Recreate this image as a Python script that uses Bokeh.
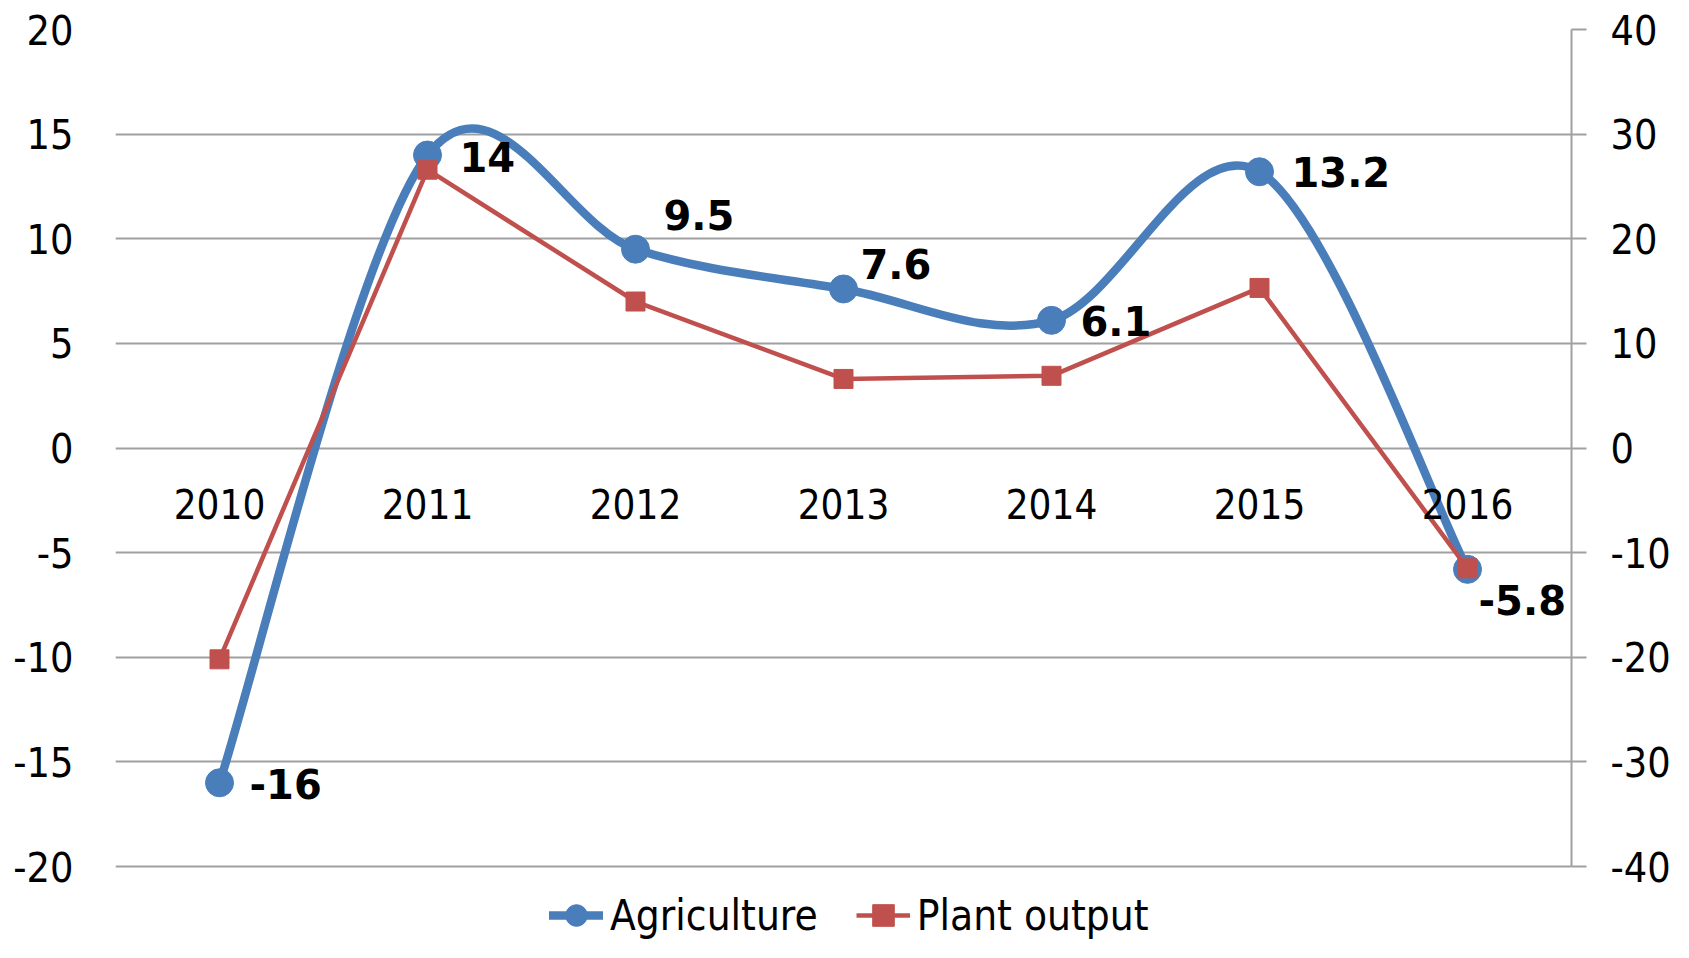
import numpy as np
from bokeh.plotting import figure
from bokeh.models import Range1d, LinearAxis, FixedTicker, Legend, LegendItem, PrintfTickFormatter
from bokeh.core.properties import value
from bokeh.embed import file_html
from bokeh.resources import INLINE

years = ["2010", "2011", "2012", "2013", "2014", "2015", "2016"]
agriculture = [-16, 14, 9.5, 7.6, 6.1, 13.2, -5.8]
plant_output = [-20.2, 26.6, 14.0, 6.6, 6.9, 15.3, -11.5]
left_ticks = [-20, -15, -10, -5, 0, 5, 10, 15, 20]
right_ticks = [-40, -30, -20, -10, 0, 10, 20, 30, 40]

# label offsets (screen px), style only
label_dx = [30, 32, 28, 17, 29, 32, 11]
label_dy = [1, 2, -34, -25, 1, 0, 31]

BLUE = "#4A7EBB"
RED = "#C0504D"
GRID = "#A0A0A0"
REG_FONT = "DejaVu Sans Condensed"
BOLD_FONT = "DejaVu Sans"

# layout (px)
FIG_W, FIG_H = 1673, 942
TOP, GRID_BOTTOM = 29, 866
LEFT_B, RIGHT_B = 115, 101

xs = list(range(len(years)))
n = len(xs)

# extend the frame below the -20 gridline so the legend can sit inside it
lmin, lmax = left_ticks[0], left_ticks[-1]
rmin, rmax = right_ticks[0], right_ticks[-1]
extra_frac = (FIG_H - GRID_BOTTOM) / (GRID_BOTTOM - TOP)
y_range = Range1d(lmin - (lmax - lmin) * extra_frac, lmax)
r_range = Range1d(rmin - (rmax - rmin) * extra_frac, rmax)

p = figure(width=FIG_W, height=FIG_H, output_backend="svg", toolbar_location=None,
           x_range=Range1d(-0.5, n - 0.5), y_range=y_range,
           min_border_left=LEFT_B, min_border_right=RIGHT_B, min_border_top=TOP, min_border_bottom=0)
p.outline_line_color = None
p.background_fill_color = "white"
p.border_fill_color = "white"
p.xaxis.visible = False
p.xgrid.visible = False
p.ygrid.ticker = FixedTicker(ticks=left_ticks)
p.ygrid.grid_line_color = GRID
p.ygrid.grid_line_width = 2

ya = p.yaxis[0]
ya.ticker = FixedTicker(ticks=left_ticks)
ya.formatter = PrintfTickFormatter(format="%d")
ya.axis_line_color = None
ya.major_tick_line_color = None
ya.minor_tick_line_color = None
ya.major_label_standoff = 36
ya.major_label_text_font = REG_FONT
ya.major_label_text_font_size = "41px"
ya.major_label_text_color = "black"

p.extra_y_ranges = {"right": r_range}
ra = LinearAxis(y_range_name="right", ticker=FixedTicker(ticks=right_ticks),
                formatter=PrintfTickFormatter(format="%d"), bounds=(rmin, rmax))
ra.axis_line_color = GRID
ra.axis_line_width = 2
ra.major_tick_line_color = GRID
ra.major_tick_line_width = 2
ra.major_tick_out = 15
ra.major_tick_in = 0
ra.minor_tick_line_color = None
ra.major_label_standoff = 24
ra.major_label_text_font = REG_FONT
ra.major_label_text_font_size = "41px"
ra.major_label_text_color = "black"
p.add_layout(ra, "right")

# Smoothed agriculture curve: Catmull-Rom Bezier segments built from the data
bx0, by0, bx1, by1, bcx0, bcy0, bcx1, bcy1 = [], [], [], [], [], [], [], []
for i in range(n - 1):
    i0, i3 = max(i - 1, 0), min(i + 2, n - 1)
    x0_, y0_ = xs[i0], agriculture[i0]
    x1_, y1_ = xs[i], agriculture[i]
    x2_, y2_ = xs[i + 1], agriculture[i + 1]
    x3_, y3_ = xs[i3], agriculture[i3]
    bx0.append(x1_); by0.append(y1_)
    bx1.append(x2_); by1.append(y2_)
    bcx0.append(x1_ + (x2_ - x0_) / 6.0); bcy0.append(y1_ + (y2_ - y0_) / 6.0)
    bcx1.append(x2_ - (x3_ - x1_) / 6.0); bcy1.append(y2_ - (y3_ - y1_) / 6.0)

bez = p.bezier(x0=bx0, y0=by0, x1=bx1, y1=by1, cx0=bcx0, cy0=bcy0, cx1=bcx1, cy1=bcy1,
               line_color=BLUE, line_width=8.5, line_cap="round")
sc1 = p.scatter(xs, agriculture, marker="circle", size=28, fill_color=BLUE, line_color=BLUE)

ln2 = p.line(xs, plant_output, y_range_name="right", line_color=RED, line_width=4.5)
sc2 = p.scatter(xs, plant_output, y_range_name="right", marker="square", size=19,
                fill_color=RED, line_color=RED)

# category labels along zero line
p.text(x=xs, y=[0] * n, text=years, y_offset=56, text_align="center", text_baseline="middle",
       text_font=value(REG_FONT), text_font_size="40px", text_color="black")

# data labels
p.text(x=xs, y=agriculture, text=[f"{v:g}" for v in agriculture], x_offset=label_dx, y_offset=label_dy,
       text_align="left", text_baseline="middle", text_font=value(BOLD_FONT),
       text_font_style="bold", text_font_size="40px", text_color="black")

legend = Legend(items=[LegendItem(label="Agriculture", renderers=[bez, sc1]),
                       LegendItem(label="Plant output", renderers=[ln2, sc2])],
                orientation="horizontal", location=(434, -2),
                padding=0, margin=0, spacing=38, label_standoff=7,
                glyph_width=54, glyph_height=58,
                border_line_color=None, background_fill_alpha=0,
                label_text_font=REG_FONT, label_text_font_size="42px", label_text_color="black")
p.add_layout(legend)

open("out.html", "w").write(file_html(p, INLINE))
